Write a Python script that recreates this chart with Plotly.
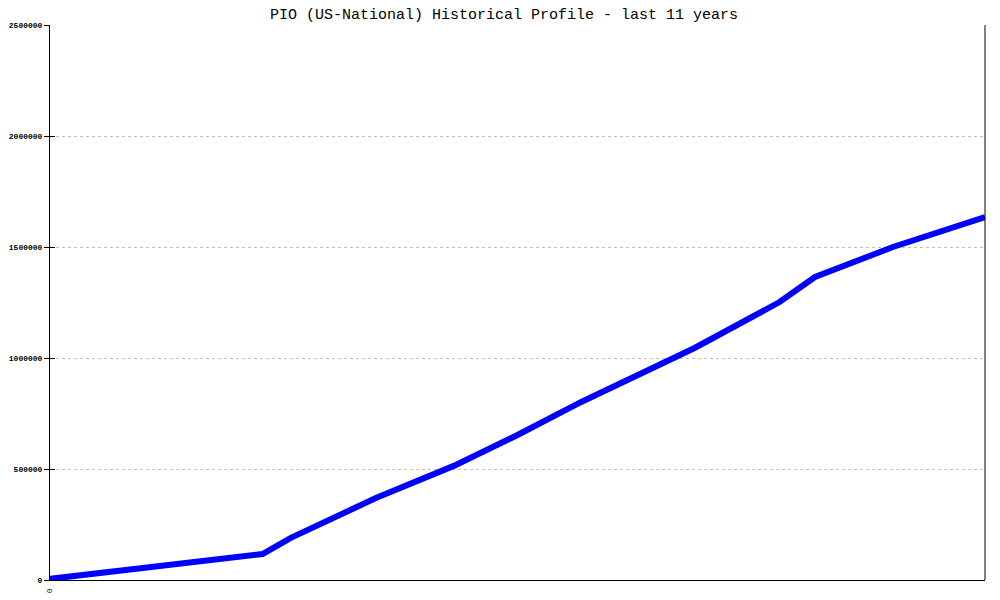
import plotly.graph_objects as go

# month index since start of the 11-year window
months = [0, 30, 34, 38, 46, 57, 66, 75, 85, 91, 103, 108, 119, 132]
values = [5000, 117000, 190000, 248000, 369000, 514000, 653000, 802000,
          955000, 1045000, 1252000, 1365000, 1500000, 1635000]
y_ticks = [0, 500000, 1000000, 1500000, 2000000, 2500000]
x_ticks = [0]
title = "PIO (US-National) Historical Profile - last 11 years"

fig = go.Figure()
fig.add_trace(go.Scatter(x=months, y=values, mode="lines",
                         line=dict(color="#0000ff", width=6), showlegend=False,
                         hoverinfo="skip"))
fig.add_trace(go.Scatter(x=months, y=values, mode="lines", yaxis="y2",
                         line=dict(color="rgba(0,0,0,0)", width=0), showlegend=False,
                         hoverinfo="skip"))

mono = "Liberation Mono"
fig.update_layout(
    width=992, height=592,
    margin=dict(l=42, r=15, t=17, b=20, autoexpand=False),
    paper_bgcolor="white", plot_bgcolor="white",
    title=dict(text=title, x=0.5, xanchor="center", y=1, yanchor="top",
               pad=dict(t=0, b=0), yref="container",
               font=dict(family=mono, size=15, color="black")),
    xaxis=dict(range=[0, 132], tickvals=x_ticks, ticktext=[str(v) for v in x_ticks],
               showgrid=False, zeroline=False, showline=True, linecolor="black",
               linewidth=1, ticks="", tickangle=90, automargin=False,
               ticklabelstandoff=6,
               tickfont=dict(family=mono, size=8, color="black")),
    yaxis=dict(range=[0, 2500000], tickvals=y_ticks, ticktext=[str(v) for v in y_ticks],
               showgrid=True, gridcolor="#c0c0c0", griddash="3px,3px", gridwidth=1,
               zeroline=False, showline=True, linecolor="black", linewidth=1,
               ticks="outside", ticklen=5, tickcolor="black", automargin=False,
               tickfont=dict(family=mono, size=8, color="black", weight="bold")),
    yaxis2=dict(range=[0, 2500000], overlaying="y", side="left", anchor="x",
                tickvals=y_ticks, showticklabels=False, showgrid=False,
                zeroline=False, showline=False, ticks="inside", ticklen=5,
                tickcolor="black", automargin=False),
    shapes=[dict(type="line", xref="paper", yref="paper", x0=1, x1=1, y0=0, y1=1,
                 line=dict(color="black", width=1))],
)
fig.write_html("out.html")
